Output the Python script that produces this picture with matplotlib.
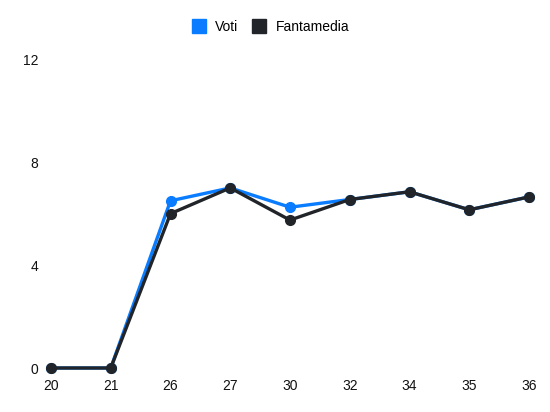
import matplotlib
matplotlib.use("Agg")
import matplotlib.pyplot as plt
from matplotlib.lines import Line2D

plt.rcParams['font.family'] = ['Liberation Sans', 'DejaVu Sans']

giornate = ['20', '21', '26', '27', '30', '32', '34', '35', '36']
voti = [0, 0, 6.5, 7.0, 6.25, 6.55, 6.85, 6.15, 6.65]
fantamedia = [0, 0, 6.0, 7.0, 5.75, 6.55, 6.85, 6.15, 6.65]
yticks = [0, 4, 8, 12]

blu = '#0a7cff'
nero = '#212529'

fig = plt.figure(figsize=(5.5, 4.12), dpi=100)
ax = fig.add_axes([51/550, 44/412, 478/550, 308.7/412])

x = range(len(giornate))
ax.plot(x, voti, color=blu, linewidth=2.4, marker='o', markersize=7, clip_on=False, zorder=2)
ax.plot(x, fantamedia, color=nero, linewidth=2.4, marker='o', markersize=7, clip_on=False, zorder=3)

ax.set_xlim(0, len(giornate) - 1)
ax.set_ylim(0, 12)
ax.set_xticks(list(x))
ax.set_xticklabels(giornate)
ax.set_yticks(yticks)
ax.tick_params(length=0, labelsize=10, colors='#111111')
ax.tick_params(axis='y', pad=9)
ax.tick_params(axis='x', pad=8)
for s in ax.spines.values():
    s.set_visible(False)

handles = [Line2D([], [], marker='s', linestyle='', color=blu, markersize=10),
           Line2D([], [], marker='s', linestyle='', color=nero, markersize=10)]
fig.legend(handles, ['Voti', 'Fantamedia'], loc='center', bbox_to_anchor=(0.491, 0.934),
           ncol=2, frameon=False, fontsize=10, handletextpad=0.6, columnspacing=0.9,
           handlelength=1.2)

fig.savefig('out.png', dpi=100)
